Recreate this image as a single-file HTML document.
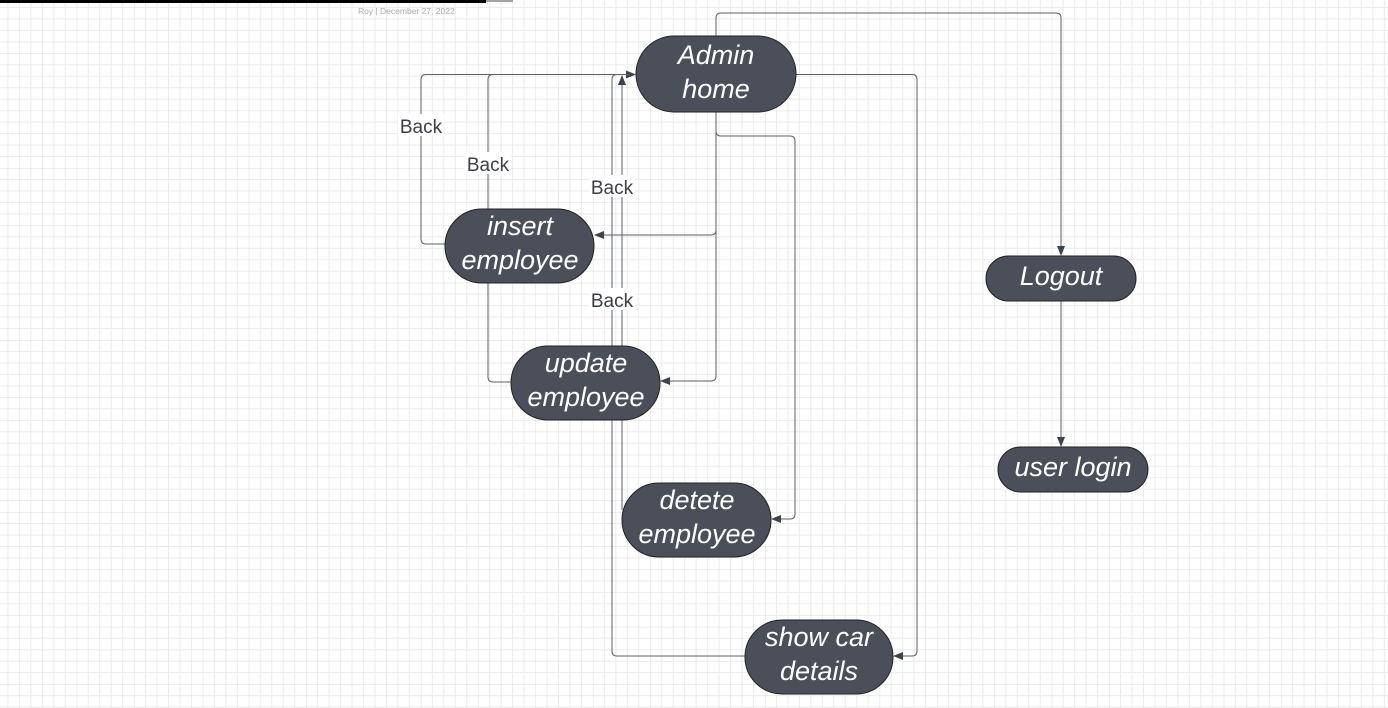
<!DOCTYPE html>
<html><head><meta charset="utf-8"><style>
html,body{margin:0;padding:0;background:#fff;}
svg{display:block;}
</style></head><body>
<svg width="1388" height="708" viewBox="0 0 1388 708" xmlns="http://www.w3.org/2000/svg">
<defs>
<pattern id="g" width="57.35" height="57.35" patternUnits="userSpaceOnUse" patternTransform="translate(19.4,53.3)">
<path d="M11.47 0V57.35M22.94 0V57.35M34.41 0V57.35M45.88 0V57.35M0 11.47H57.35M0 22.94H57.35M0 34.41H57.35M0 45.88H57.35" stroke="#ebebeb" stroke-width="1" fill="none"/>
<path d="M0 0V57.35M0 0H57.35" stroke="#dcdcdc" stroke-width="1" fill="none"/>
</pattern>
<marker id="a" markerWidth="10" markerHeight="8" refX="9" refY="4" orient="auto" markerUnits="userSpaceOnUse">
<path d="M0 0L10 4L0 8Z" fill="#3d434d"/>
</marker>
</defs>
<rect width="1388" height="708" fill="url(#g)"/>
<rect x="0" y="0" width="486" height="3" fill="#000"/>
<rect x="486" y="0" width="27" height="2" fill="#a0a4aa"/>
<text x="358" y="14" font-family="Liberation Sans, sans-serif" font-size="8.5" fill="#a9acb2">Roy   |  December 27, 2022</text>

<g fill="none" stroke="#5a5f68" stroke-width="1">
<path d="M716 36V18Q716 13 721 13H1056Q1061 13 1061 18V255" marker-end="url(#a)"/>
<path d="M796 74.5H912Q917 74.5 917 79.5V651Q917 656 912 656H894" marker-end="url(#a)"/>
<path d="M716 112V230Q716 235 711 235H595" marker-end="url(#a)"/>
<path d="M716 112V376Q716 381 711 381H661" marker-end="url(#a)"/>
<path d="M716 112V131Q716 136 721 136H790Q795 136 795 141V514Q795 519 790 519H772" marker-end="url(#a)"/>
<path d="M445 244H426Q421 244 421 239V79.5Q421 74.5 426 74.5H635" marker-end="url(#a)"/>
<path d="M511 382H493Q488 382 488 377V79.5Q488 74.5 493 74.5H600"/>
<path d="M745 656H617Q612 656 612 651V79.5Q612 74.5 617 74.5H630"/>
<path d="M622 510V76" marker-end="url(#a)"/>
<path d="M1061 301V446" marker-end="url(#a)"/>
</g>

<g font-family="Liberation Sans, sans-serif" font-size="19" fill="#3a3f47" text-anchor="middle">
<rect x="398" y="114" width="46" height="22" fill="#fff"/><text x="421" y="133">Back</text>
<rect x="465" y="152" width="46" height="22" fill="#fff"/><text x="488" y="171">Back</text>
<rect x="589" y="175" width="46" height="22" fill="#fff"/><text x="612" y="194">Back</text>
<rect x="589" y="288" width="46" height="22" fill="#fff"/><text x="612" y="307">Back</text>
</g>

<g fill="#4a4f59" stroke="#222" stroke-width="1">
<rect x="636" y="36" width="160" height="76" rx="38"/>
<rect x="445" y="209" width="149" height="74" rx="37"/>
<rect x="511" y="346" width="149" height="74" rx="37"/>
<rect x="622" y="483" width="149" height="74" rx="37"/>
<rect x="745" y="620" width="148" height="74" rx="37"/>
<rect x="986" y="256" width="150" height="45" rx="22.5"/>
<rect x="998" y="447" width="150" height="45" rx="22.5"/>
</g>
<g font-family="Liberation Sans, sans-serif" font-size="27" font-style="italic" fill="#fff" text-anchor="middle">
<text x="716" y="64">Admin</text><text x="716" y="98">home</text>
<text x="520" y="235">insert</text><text x="520" y="269">employee</text>
<text x="586" y="372">update</text><text x="586" y="406">employee</text>
<text x="697" y="509">detete</text><text x="697" y="543">employee</text>
<text x="819" y="646">show car</text><text x="819" y="680">details</text>
<text x="1061" y="285">Logout</text>
<text x="1073" y="476">user login</text>
</g>
</svg>
</body></html>
